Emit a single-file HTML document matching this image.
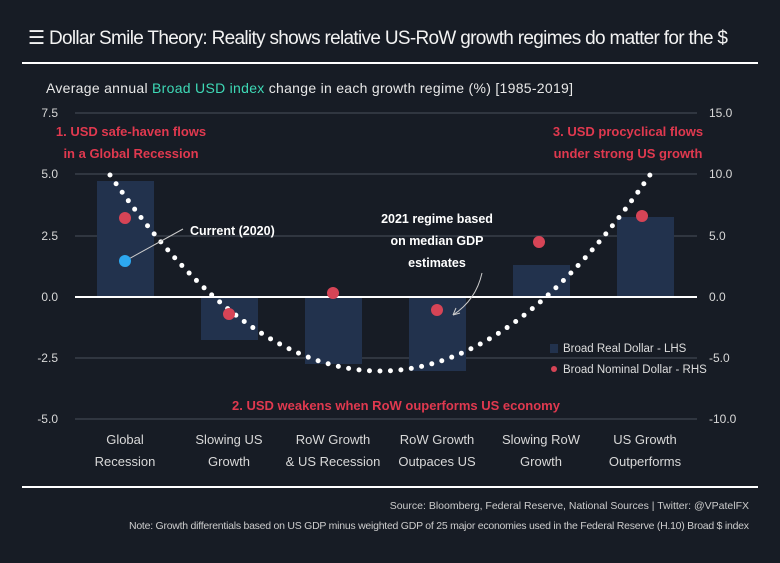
<!DOCTYPE html><html><head><style>
body{margin:0;background:#171c25;width:780px;height:558px;overflow:hidden;font-family:"Liberation Sans",sans-serif}
</style></head><body>
<svg width="780" height="558" xmlns="http://www.w3.org/2000/svg" font-family="Liberation Sans, sans-serif">
<rect width="780" height="558" fill="#171c25"/>
<text x="28" y="44" fill="#f2f2f2" font-size="19" textLength="700">☰ Dollar Smile Theory: Reality shows relative US-RoW growth regimes do matter for the $</text>
<line x1="22" y1="63" x2="758" y2="63" stroke="#fff" stroke-width="2"/>
<text x="46" y="93" fill="#e8e8e8" font-size="14" textLength="527">Average annual <tspan fill="#3ed9b6">Broad USD index</tspan> change in each growth regime (%) [1985-2019]</text>
<g stroke="#4a505a" stroke-width="1">
<line x1="75" y1="113" x2="697" y2="113"/><line x1="75" y1="174" x2="697" y2="174"/>
<line x1="75" y1="236" x2="697" y2="236"/><line x1="75" y1="358" x2="697" y2="358"/><line x1="75" y1="419" x2="697" y2="419"/></g>
<g fill="#d8d8d8" font-size="12">
<text x="58" y="117" text-anchor="end">7.5</text><text x="58" y="178" text-anchor="end">5.0</text><text x="58" y="240" text-anchor="end">2.5</text>
<text x="58" y="301" text-anchor="end">0.0</text><text x="58" y="362" text-anchor="end">-2.5</text><text x="58" y="423" text-anchor="end">-5.0</text>
<text x="709" y="117">15.0</text><text x="709" y="178">10.0</text><text x="709" y="240">5.0</text><text x="709" y="301">0.0</text><text x="709" y="362">-5.0</text><text x="709" y="423">-10.0</text></g>
<g fill="#22324d">
<rect x="97" y="181" width="57" height="116"/><rect x="201" y="297" width="57" height="43"/>
<rect x="305" y="297" width="57" height="67"/><rect x="409" y="297" width="57" height="74"/>
<rect x="513" y="265" width="57" height="32"/><rect x="617" y="217" width="57" height="80"/></g>
<line x1="75" y1="297" x2="697" y2="297" stroke="#fff" stroke-width="2"/>
<path d="M110 175 Q382.5 570.7 655 167.6" fill="none" stroke="#fff" stroke-width="5" stroke-linecap="round" stroke-dasharray="0 10.5"/>
<g fill="#d64456">
<circle cx="125" cy="218" r="6"/><circle cx="229" cy="314" r="6"/><circle cx="333" cy="293" r="6"/>
<circle cx="437" cy="310" r="6"/><circle cx="539" cy="242" r="6"/><circle cx="642" cy="216" r="6"/></g>
<line x1="125" y1="261" x2="183" y2="229" stroke="#ccc" stroke-width="1"/>
<circle cx="125" cy="261" r="6" fill="#2da8f0"/>
<text x="190" y="235" fill="#fff" font-size="12.5" font-weight="bold">Current (2020)</text>
<g fill="#fff" font-size="12.5" font-weight="bold" text-anchor="middle">
<text x="437" y="223">2021 regime based</text><text x="437" y="245">on median GDP</text><text x="437" y="267">estimates</text></g>
<path d="M482 273 Q476 300 453 315" stroke="#ccc" fill="none"/><path d="M453 315 l3 -7 M453 315 l7 -2" stroke="#ccc"/>
<g fill="#e0394f" font-size="13" font-weight="bold" text-anchor="middle">
<text x="131" y="136">1. USD safe-haven flows</text><text x="131" y="158">in a Global Recession</text>
<text x="628" y="136">3. USD procyclical flows</text><text x="628" y="158">under strong US growth</text>
<text x="396" y="410">2. USD weakens when RoW ouperforms US economy</text></g>
<rect x="550" y="344" width="8" height="9" fill="#22324d"/>
<text x="563" y="352" fill="#ddd" font-size="11.5">Broad Real Dollar - LHS</text>
<circle cx="554" cy="369" r="3" fill="#d64456"/>
<text x="563" y="373" fill="#ddd" font-size="11.5">Broad Nominal Dollar - RHS</text>
<g fill="#d8d8d8" font-size="13" text-anchor="middle">
<text x="125" y="444">Global</text><text x="125" y="466">Recession</text>
<text x="229" y="444">Slowing US</text><text x="229" y="466">Growth</text>
<text x="333" y="444">RoW Growth</text><text x="333" y="466">&amp; US Recession</text>
<text x="437" y="444">RoW Growth</text><text x="437" y="466">Outpaces US</text>
<text x="541" y="444">Slowing RoW</text><text x="541" y="466">Growth</text>
<text x="645" y="444">US Growth</text><text x="645" y="466">Outperforms</text></g>
<line x1="22" y1="487" x2="758" y2="487" stroke="#fff" stroke-width="2"/>
<text x="749" y="509" fill="#ccc" font-size="10.5" text-anchor="end">Source: Bloomberg, Federal Reserve, National Sources | Twitter: @VPatelFX</text>
<text x="749" y="529" fill="#ccc" font-size="10.5" text-anchor="end" textLength="620">Note: Growth differentials based on US GDP minus weighted GDP of 25 major economies used in the Federal Reserve (H.10) Broad $ index</text>
</svg>
</body></html>
